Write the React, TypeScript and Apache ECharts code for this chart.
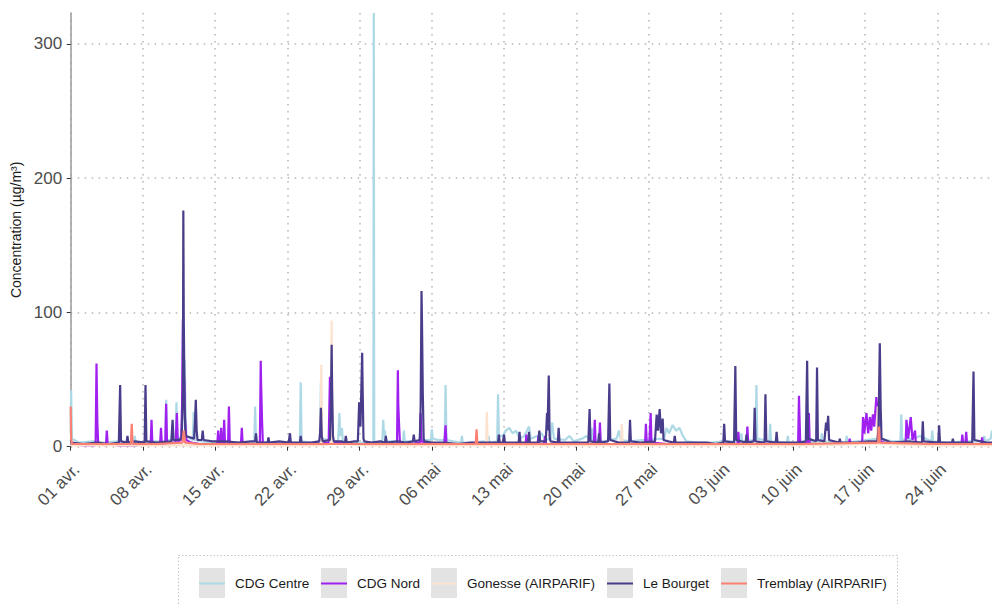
import React, { useEffect, useRef } from "react";
import * as echarts from "echarts";

// x values are hours since 01 avr. 00:00 (hourly measurements)
const tickLabels = ["01 avr.", "08 avr.", "15 avr.", "22 avr.", "29 avr.", "06 mai", "13 mai", "20 mai", "27 mai", "03 juin", "10 juin", "17 juin", "24 juin"];
const seriesNames = ["CDG Centre", "CDG Nord", "Gonesse (AIRPARIF)", "Le Bourget", "Tremblay (AIRPARIF)"];

const cdgCentre = [
  [0,10],[1,42],[3,6],[20,3],[50,4],[80,3],[110,4],
  [147,3],[149,8],[151,3],[180,4],[205,4],
  [220,4],[222,35],[224,5],[244,5],[246,33],[248,6],
  [258,8],[262,40],[265,65],[267,30],[269,8],[284,5],[286,26],[288,5],
  [320,3],[360,3],[400,3],[427,3],[429,30],[431,4],[470,3],[500,3],
  [533,3],[535,48],[537,4],[560,3],[580,4],[582,48],[584,6],[600,5],
  [622,4],[625,25],[627,8],[631,14],[633,4],[660,3],[690,3],
  [704,3],[705,323],[706,3],[725,4],[727,20],[729,8],[731,12],[733,4],[755,4],
  [773,3],[775,12],[777,4],[800,4],[820,5],[838,5],[840,13],[842,6],[855,5],
  [870,5],[872,46],[874,5],[890,4],[908,3],[910,8],[912,3],[940,3],[960,4],
  [970,3],[972,8],[974,3],[992,4],[994,39],[996,8],
  [1005,8],[1012,12],[1020,14],[1028,10],[1036,12],[1044,6],[1055,8],[1066,15],[1070,6],
  [1085,8],[1095,10],[1105,5],[1116,6],[1120,18],[1124,6],[1150,5],[1160,8],[1170,4],
  [1190,6],[1200,8],[1210,5],[1212,14],[1214,5],[1240,4],[1270,6],[1275,12],[1280,5],
  [1300,4],[1330,5],[1380,6],[1386,14],[1392,10],[1400,16],[1408,12],[1416,14],[1424,8],[1432,4],
  [1460,3],[1488,3],[1520,4],[1558,4],[1560,10],[1562,4],[1593,5],[1595,46],[1597,6],
  [1625,4],[1627,17],[1629,4],[1666,3],[1668,8],[1670,3],[1700,3],[1745,4],[1747,10],[1749,4],
  [1780,3],[1803,3],[1805,8],[1807,3],[1850,5],[1880,6],[1882,30],[1884,6],[1910,4],
  [1930,4],[1932,24],[1934,5],[1960,6],[1975,8],[2002,4],[2004,12],[2006,4],[2040,3],
  [2080,4],[2123,4],[2125,8],[2127,4],[2140,6],[2143,12]
];

const cdgNord = [
  [0,2],[30,1],[56,1],[58,2],[60,62],[61,40],[62,18],[64,2],[82,1],[84,12],[86,2],
  [110,1],[150,1],[186,2],[188,20],[190,2],[208,2],[210,14],[212,2],[220,2],[222,32],[224,3],
  [244,3],[247,25],[249,4],[257,5],[259,30],[261,95],[262,57],[264,50],[266,20],[269,5],
  [280,3],[300,2],[320,2],[341,2],[343,12],[345,2],[348,2],[350,14],[352,2],[355,2],[357,20],[359,2],
  [366,2],[368,30],[370,3],[396,2],[398,14],[400,2],[420,2],[440,2],[442,64],[443,46],[445,20],[447,2],
  [480,2],[520,1.5],[560,2],[600,3],[603,52],[604,30],[606,4],[650,2],[700,2],
  [759,2],[761,57],[762,31],[764,15],[766,2],[790,2],[812,3],[814,25],[816,4],[840,2],
  [869,2],[872,16],[874,2],[920,1.5],[980,1.5],[1058,2],[1060,9],[1062,2],[1086,2],[1088,8],[1090,2],
  [1100,2],[1104,8],[1106,2],[1217,2],[1219,20],[1221,2],[1229,2],[1231,18],[1233,2],[1260,2],[1300,2],
  [1336,2],[1338,17],[1340,2],[1346,3],[1349,25],[1351,3],[1400,1.5],[1480,1.5],
  [1551,2],[1553,11],[1555,2],[1572,2],[1574,15],[1576,2],[1640,2],
  [1692,2],[1694,38],[1695,25],[1697,2],[1715,3],[1717,25],[1719,2],[1760,2],[1810,2],[1812,6],[1814,2],
  [1841,3],[1843,22],[1846,10],[1851,25],[1855,10],[1859,22],[1862,12],[1866,24],[1869,15],[1874,37],[1877,25],[1880,12],[1884,4],
  [1900,2],[1942,2],[1944,20],[1948,6],[1954,22],[1958,5],[1964,12],[1966,2],[2000,2],
  [2072,2],[2074,9],[2076,2],[2081,2],[2083,11],[2085,2],[2118,2],[2120,7],[2122,2],[2143,1.5]
];

const gonesse = [
  [0,1],[150,1],[300,1],[450,1],[581,1],[583,61],[585,1],[605,2],[607,94],[609,2],
  [700,1],[850,1],[966,1],[968,26],[970,1],[1100,1],[1280,1],[1282,17],[1284,1],
  [1500,1],[1700,1],[1875,2],[1877,30],[1879,2],[2000,1],[2143,1]
];

const leBourget = [
  [0,5],[2,3],[30,2],[60,3],[90,2],[112,3],[115,46],[117,4],[130,3],[132,8],[134,3],[150,4],
  [172,3],[174,46],[176,4],[200,3],[234,4],[237,20],[239,5],[250,5],
  [258,6],[261,40],[262,176],[263,95],[265,30],[267,8],[287,6],[289,18],[291,35],[293,12],[295,5],
  [305,5],[307,12],[309,5],[330,4],[360,4],[390,3],[420,4],[429,4],[431,10],[433,3],
  [458,3],[460,7],[462,3],[485,4],[507,3],[510,10],[512,3],[533,3],[535,8],[537,3],[560,3],
  [578,4],[580,10],[582,29],[584,8],[586,4],[603,5],[605,30],[607,76],[608,45],[610,8],[612,4],
  [630,4],[638,3],[640,8],[642,3],[660,4],[668,4],[671,33],[674,15],[678,70],[679,45],[681,6],[683,4],
  [700,3],[720,4],[731,3],[733,8],[735,3],[760,4],[780,3],[796,4],[798,9],[800,4],
  [812,5],[814,30],[816,116],[817,96],[819,40],[821,6],[823,4],
  [840,3],[870,3],[900,2],[930,3],[960,3],[985,3],[994,3],[996,9],[998,3],[1005,3],[1008,9],[1010,3],[1025,3],
  [1042,3],[1044,11],[1046,3],[1064,3],[1066,11],[1068,3],[1088,3],[1090,12],[1092,4],
  [1105,4],[1108,25],[1109,12],[1112,53],[1114,8],[1116,4],[1133,3],[1135,14],[1137,3],[1160,3],[1180,3],
  [1204,3],[1207,28],[1209,4],[1227,3],[1229,10],[1231,3],[1250,4],[1253,47],[1255,5],[1275,3],
  [1299,3],[1301,20],[1303,4],[1325,3],[1359,4],[1363,24],[1366,12],[1370,28],[1373,10],[1377,21],[1379,5],
  [1390,4],[1403,3],[1405,8],[1407,3],[1440,3],[1480,3],[1500,2],
  [1518,3],[1520,17],[1522,4],[1543,3],[1546,60],[1548,5],[1570,3],[1572,9],[1574,3],
  [1589,4],[1591,29],[1593,4],[1614,3],[1616,39],[1618,4],[1640,3],[1642,11],[1644,3],[1670,3],[1690,3],
  [1710,4],[1713,64],[1715,6],[1734,4],[1736,59],[1738,5],[1753,4],[1757,18],[1759,12],[1762,23],[1764,5],
  [1787,3],[1789,6],[1791,3],[1830,3],[1855,4],[1876,4],[1879,12],[1882,77],[1884,30],[1886,6],
  [1910,3],[1950,4],[1980,3],[1982,19],[1984,4],[2018,3],[2020,16],[2022,3],[2050,3],[2052,6],[2054,3],
  [2075,3],[2097,3],[2100,56],[2102,5],[2130,3],[2143,3]
];

const tremblay = [
  [0,30],[1,6],[3,2],[60,2],[140,2],[142,17],[144,2],[200,2],[260,3],[263,12],[266,3],
  [300,2],[400,2],[500,2],[600,2],[700,2],[800,2],[942,2],[944,13],[946,2],
  [1100,2],[1300,2],[1500,2],[1700,2],[1878,3],[1880,15],[1882,3],[2000,2],[2143,2]
];

const seriesData = [cdgCentre, cdgNord, gonesse, leBourget, tremblay];
const seriesColors = ["#ADD8E6", "#A020F0", "#FCE3CF", "#483D8B", "#FA8072"];

const legendLefts = [199, 321, 431, 607, 721];
const legendTop = 568;
const FONT = '"Liberation Sans", Arial, Helvetica, sans-serif';

export default function App() {
  const ref = useRef<HTMLDivElement>(null);
  useEffect(() => {
    document.body.style.margin = "0";
    if (!ref.current) return;
    const chart = echarts.init(ref.current, undefined, { renderer: "svg" });
    const gridLine = { type: [1.5, 5.5], color: "#b5b5b5", width: 1.5 };
    const option: any = {
      animation: false,
      backgroundColor: "#ffffff",
      textStyle: { fontFamily: FONT },
      grid: { left: 70.7, right: 0, top: 13, bottom: 157.3 },
      xAxis: {
        type: "value",
        min: 0,
        max: 2143,
        interval: 168,
        axisLine: { show: false },
        axisTick: { show: true, length: 4, lineStyle: { color: "#333333", width: 1 } },
        axisLabel: {
          rotate: 45,
          fontSize: 17,
          color: "#4d4d4d",
          margin: 14,
          verticalAlign: "top",
          showMaxLabel: false,
          fontFamily: FONT,
          formatter: (v: number) => tickLabels[Math.round(v / 168)] ?? "",
        },
        splitLine: { show: true, showMaxLine: false, lineStyle: gridLine },
      },
      yAxis: {
        type: "value",
        min: 0,
        max: 323,
        interval: 100,
        name: "Concentration (µg/m³)",
        nameLocation: "middle",
        nameGap: 46,
        nameTextStyle: { fontSize: 14, color: "#1a1a1a", fontFamily: FONT },
        axisLine: { show: true, lineStyle: { color: "#a0a0a0", width: 1.6 } },
        axisTick: { show: true, length: 4, lineStyle: { color: "#333333", width: 1 } },
        axisLabel: { fontSize: 17, color: "#4d4d4d", margin: 8.5, showMaxLabel: false, fontFamily: FONT },
        splitLine: { show: true, showMaxLine: false, lineStyle: gridLine },
      },
      legend: seriesNames.map((n, i) => ({
        left: legendLefts[i],
        top: legendTop,
        padding: 0,
        orient: "horizontal",
        data: [n],
        itemWidth: 26,
        itemHeight: 30,
        icon: "path://M0,0M26,30M0,14.5L26,14.5L26,16.5L0,16.5Z",
        itemStyle: { borderWidth: 0 },
        selectedMode: false,
        textStyle: { fontSize: 13.5, color: "#1a1a1a", padding: [0, 0, 0, 5], fontFamily: FONT },
      })),
      graphic: [
        {
          type: "rect",
          shape: { x: 178.5, y: 555.5, width: 719, height: 70 },
          style: { fill: "none", stroke: "#c4c4c4", lineWidth: 1, lineDash: [1.5, 2] },
          silent: true,
          z: 0,
        },
        ...legendLefts.map((l) => ({
          type: "rect",
          shape: { x: l, y: legendTop, width: 26, height: 30 },
          style: { fill: "#e3e3e3" },
          silent: true,
          z: 0,
        })),
      ],
      series: seriesNames.map((n, i) => ({
        type: "line",
        name: n,
        data: seriesData[i],
        showSymbol: false,
        symbol: "none",
        silent: true,
        color: seriesColors[i],
        lineStyle: { width: 2.2, color: seriesColors[i] },
        itemStyle: { color: seriesColors[i] },
        emphasis: { disabled: true },
        z: 2 + i,
      })),
    };
    chart.setOption(option);
    return () => chart.dispose();
  }, []);
  return <div ref={ref} style={{ position: "absolute", left: 0, top: 0, width: 992, height: 604 }} />;
}
